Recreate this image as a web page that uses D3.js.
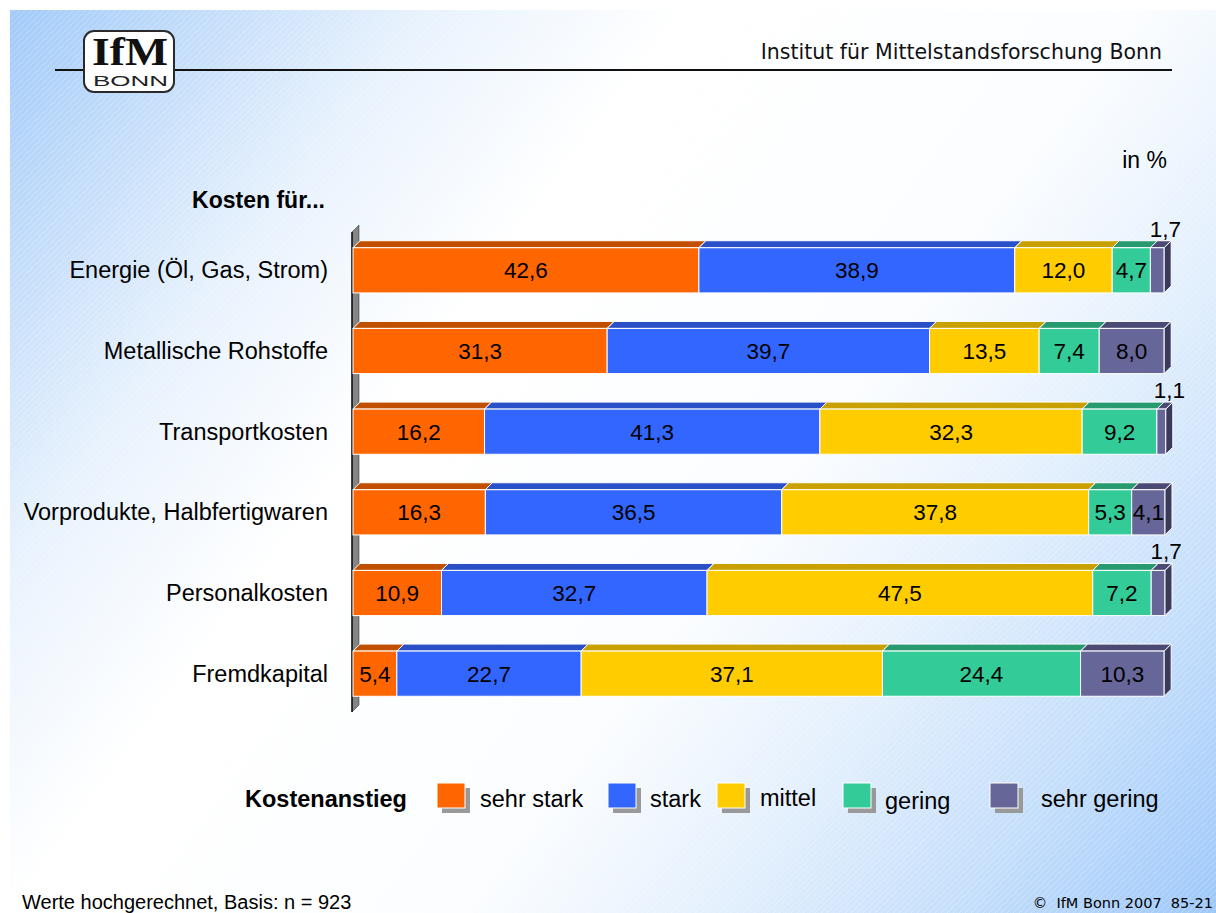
<!DOCTYPE html>
<meta charset="utf-8">
<script src="https://d3js.org/d3.v7.min.js"></script>
<style>
  body { margin: 0; background: #fff; }
  svg text { font-family: 'Liberation Sans', Arial, sans-serif; }
</style>
<body>
<div id="chart"></div>
<script>

// data (percent)
var categories = ["Energie (Öl, Gas, Strom)", "Metallische Rohstoffe", "Transportkosten",
                  "Vorprodukte, Halbfertigwaren", "Personalkosten", "Fremdkapital"];
var levels = ["sehr stark", "stark", "mittel", "gering", "sehr gering"];
var sehrStark  = [42.6, 31.3, 16.2, 16.3, 10.9, 5.4];
var stark      = [38.9, 39.7, 41.3, 36.5, 32.7, 22.7];
var mittel     = [12.0, 13.5, 32.3, 37.8, 47.5, 37.1];
var gering     = [4.7, 7.4, 9.2, 5.3, 7.2, 24.4];
var sehrGering = [1.7, 8.0, 1.1, 4.1, 1.7, 10.3];

var series = [sehrStark, stark, mittel, gering, sehrGering];
var rows = categories.map(function(c, i) {
  var r = {cat: c};
  levels.forEach(function(l, j) { r[l] = series[j][i]; });
  return r;
});

var front = ["#ff6600", "#3366ff", "#ffcc00", "#33cc99", "#666699"];
var top_  = ["#c05000", "#2a50c8", "#c8a000", "#289a70", "#4a4a74"];
var sideColor = "#3a3a5c";

var W = 1216, H = 913, depth = 7;

var svg = d3.select("#chart").append("svg")
  .attr("width", W).attr("height", H);

// background gradient + faint hatch
var defs = svg.append("defs");
var grad = defs.append("linearGradient").attr("id", "bg")
  .attr("gradientUnits", "userSpaceOnUse")
  .attr("x1", 10).attr("y1", 10).attr("x2", W).attr("y2", H);
[[0, "#a2cbf9"], [0.1, "#c2dcfa"], [0.22, "#e8f2fd"], [0.36, "#ffffff"],
 [0.6, "#fbfdff"], [0.72, "#e6f1fd"], [0.86, "#c6dffb"], [1, "#9ec8fa"]]
  .forEach(function(s) { grad.append("stop").attr("offset", s[0]).attr("stop-color", s[1]); });

var pat = defs.append("pattern").attr("id", "hatch")
  .attr("patternUnits", "userSpaceOnUse").attr("width", 6).attr("height", 6);
pat.append("path").attr("d", "M0,6 L6,0 M-1,1 L1,-1 M5,7 L7,5")
  .attr("stroke", "#fff").attr("stroke-width", 0.7).attr("stroke-opacity", 0.35);

svg.append("rect").attr("x", 10).attr("y", 10).attr("width", W - 10).attr("height", H - 10)
  .attr("fill", "url(#bg)");
svg.append("rect").attr("x", 10).attr("y", 10).attr("width", W - 10).attr("height", H - 10)
  .attr("fill", "url(#hatch)");

// header
svg.append("line").attr("x1", 55).attr("x2", 1172).attr("y1", 70).attr("y2", 70)
  .attr("stroke", "#111").attr("stroke-width", 2);
svg.append("text").attr("x", 1162).attr("y", 59).attr("text-anchor", "end")
  .style("font-family", "'DejaVu Sans', Verdana, sans-serif").style("font-size", "20.5px")
  .attr("fill", "#111").text("Institut für Mittelstandsforschung Bonn");

// logo
var logo = svg.append("g");
logo.append("rect").attr("x", 84).attr("y", 31).attr("width", 90).attr("height", 61).attr("rx", 10)
  .attr("fill", "#fff").attr("stroke", "#2a2a2a").attr("stroke-width", 2);
logo.append("text").attr("x", 130).attr("y", 65).attr("text-anchor", "middle")
  .attr("textLength", 76).attr("lengthAdjust", "spacingAndGlyphs")
  .style("font-family", "'Liberation Serif', 'Times New Roman', serif").style("font-weight", "bold")
  .style("font-size", "40px").attr("fill", "#111").text("IfM");
logo.append("text").attr("x", 93).attr("y", 86)
  .attr("textLength", 75).attr("lengthAdjust", "spacingAndGlyphs")
  .style("font-size", "14px").attr("fill", "#222").text("BONN");

// scales
var x = d3.scaleLinear().domain([0, 100]).range([353, 1165]);
var y = d3.scaleBand().domain(categories).range([230, 714])
  .paddingInner(0.44).paddingOuter(0.22);
var bw = y.bandwidth();

// axis wall
svg.append("path")
  .attr("d", "M352,232 L359,225 L359,705 L352,712 Z")
  .attr("fill", "#858585").attr("stroke", "#222").attr("stroke-width", 0.5);
svg.append("line").attr("x1", 352).attr("x2", 352).attr("y1", 232).attr("y2", 712)
  .attr("stroke", "#111").attr("stroke-width", 1.5);

var fmt = function(v) { return d3.format(".1f")(v).replace(".", ","); };

var stacked = d3.stack().keys(levels)(rows);

var layer = svg.selectAll("g.layer").data(stacked).enter().append("g").attr("class", "layer");

layer.selectAll("path.top").data(function(d) { return d; }).enter().append("path")
  .attr("class", "top")
  .attr("d", function(d) {
    var x0 = x(d[0]), x1 = x(d[1]), t = y(d.data.cat);
    return "M" + x0 + "," + t + "L" + (x0 + depth) + "," + (t - depth) +
           "L" + (x1 + depth) + "," + (t - depth) + "L" + x1 + "," + t + "Z";
  })
  .attr("fill", function(d, i, n) { return top_[levels.indexOf(d3.select(n[i].parentNode).datum().key)]; })
  .attr("stroke", "#fff").attr("stroke-width", 1);

layer.selectAll("rect").data(function(d) { return d; }).enter().append("rect")
  .attr("x", function(d) { return x(d[0]); })
  .attr("y", function(d) { return y(d.data.cat); })
  .attr("width", function(d) { return x(d[1]) - x(d[0]); })
  .attr("height", bw)
  .attr("fill", function(d, i, n) { return front[levels.indexOf(d3.select(n[i].parentNode).datum().key)]; })
  .attr("stroke", "#fff").attr("stroke-width", 1);

// side face of the last segment
var last = stacked[stacked.length - 1];
svg.selectAll("path.side").data(last).enter().append("path")
  .attr("d", function(d) {
    var x1 = x(d[1]), t = y(d.data.cat);
    return "M" + x1 + "," + t + "L" + (x1 + depth) + "," + (t - depth) +
           "L" + (x1 + depth) + "," + (t - depth + bw) + "L" + x1 + "," + (t + bw) + "Z";
  })
  .attr("fill", sideColor).attr("stroke", "#fff").attr("stroke-width", 1);

// value labels
layer.selectAll("text").data(function(d) { return d; }).enter().append("text")
  .attr("text-anchor", "middle")
  .attr("x", function(d) {
    var v = d[1] - d[0], cx = (x(d[0]) + x(d[1])) / 2;
    return v < 2 ? cx + depth + 1 : cx;
  })
  .attr("y", function(d) {
    var v = d[1] - d[0], t = y(d.data.cat);
    return v < 2 ? t - depth - 4 : t + bw / 2 + 8;
  })
  .style("font-size", "22.5px").attr("fill", "#000")
  .text(function(d) { return fmt(d[1] - d[0]); });

// category labels
svg.selectAll("text.cat").data(categories).enter().append("text")
  .attr("class", "cat").attr("text-anchor", "end")
  .attr("x", 328).attr("y", function(d) { return y(d) + bw / 2 + 8; })
  .style("font-size", "23.5px").attr("fill", "#000").text(function(d) { return d; });

svg.append("text").attr("x", 325).attr("y", 208).attr("text-anchor", "end")
  .style("font-size", "23px").style("font-weight", "bold").text("Kosten für...");
svg.append("text").attr("x", 1167).attr("y", 168).attr("text-anchor", "end")
  .style("font-size", "23px").text("in %");

// legend
svg.append("text").attr("x", 245).attr("y", 807)
  .style("font-size", "23.5px").style("font-weight", "bold").text("Kostenanstieg");
var swX = [437, 608, 717, 843, 990];
var txX = [480, 650, 760, 885, 1041];
var txY = [807, 807, 806, 809, 807];
var leg = svg.selectAll("g.leg").data(levels).enter().append("g").attr("class", "leg");
leg.append("rect").attr("x", function(d, i) { return swX[i] + 5; }).attr("y", 788)
  .attr("width", 28).attr("height", 25).attr("fill", "#999");
leg.append("rect").attr("x", function(d, i) { return swX[i]; }).attr("y", 783)
  .attr("width", 28).attr("height", 25).attr("fill", function(d, i) { return front[i]; })
  .attr("stroke", "#fff").attr("stroke-width", 1);
leg.append("text").attr("x", function(d, i) { return txX[i]; })
  .attr("y", function(d, i) { return txY[i]; })
  .style("font-size", "23.5px").text(function(d) { return d; });

// footer
svg.append("text").attr("x", 22).attr("y", 909).style("font-size", "20px")
  .text("Werte hochgerechnet, Basis: n = 923");
svg.append("text").attr("x", 1213).attr("y", 908).attr("text-anchor", "end")
  .style("font-family", "'DejaVu Sans', Verdana, sans-serif").style("font-size", "14.5px")
  .attr("xml:space", "preserve").text("©  IfM Bonn 2007  85-21");

</script>
</body>
